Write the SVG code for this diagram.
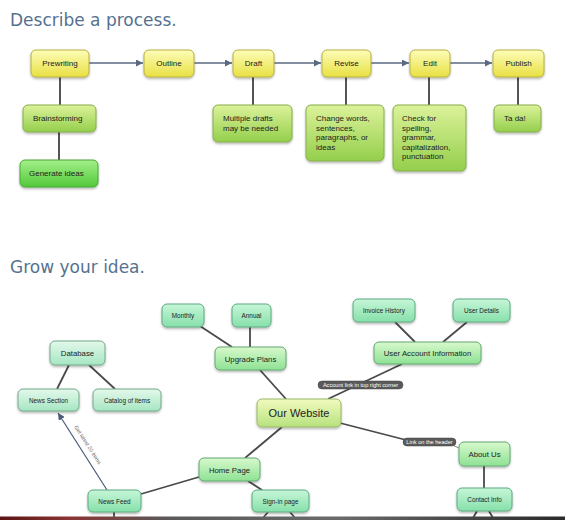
<svg xmlns="http://www.w3.org/2000/svg" width="565" height="520" viewBox="0 0 565 520">
<defs>
<linearGradient id="gY" x1="0" y1="0" x2="0" y2="1"><stop offset="0" stop-color="#fdfdb8"/><stop offset="1" stop-color="#e8e042"/></linearGradient>
<linearGradient id="gG" x1="0" y1="0" x2="0" y2="1"><stop offset="0" stop-color="#dcf29a"/><stop offset="1" stop-color="#94cf4c"/></linearGradient>
<linearGradient id="gD" x1="0" y1="0" x2="0" y2="1"><stop offset="0" stop-color="#a4f08a"/><stop offset="1" stop-color="#52c83a"/></linearGradient>
<linearGradient id="gM" x1="0" y1="0" x2="0" y2="1"><stop offset="0" stop-color="#d8f8cc"/><stop offset="1" stop-color="#8ee294"/></linearGradient>
<linearGradient id="gA" x1="0" y1="0" x2="0" y2="1"><stop offset="0" stop-color="#e4f8ec"/><stop offset="1" stop-color="#a6e6c2"/></linearGradient>
<linearGradient id="gT" x1="0" y1="0" x2="0" y2="1"><stop offset="0" stop-color="#c6f6d8"/><stop offset="1" stop-color="#86e0aa"/></linearGradient>
<linearGradient id="gW" x1="0" y1="0" x2="0" y2="1"><stop offset="0" stop-color="#f2fabe"/><stop offset="1" stop-color="#b6e27e"/></linearGradient>
<linearGradient id="gBar" x1="0" y1="0" x2="1" y2="0"><stop offset="0" stop-color="#5a1414"/><stop offset="0.12" stop-color="#8a3434"/><stop offset="0.3" stop-color="#5a5a5a"/><stop offset="0.6" stop-color="#6a6a6a"/><stop offset="1" stop-color="#2a2a2a"/></linearGradient>
<filter id="sh" x="-20%" y="-20%" width="140%" height="160%"><feDropShadow dx="0" dy="1.5" stdDeviation="1.2" flood-color="#000" flood-opacity="0.3"/></filter>
<marker id="ah" viewBox="0 0 10 10" refX="10" refY="5" markerWidth="7" markerHeight="7" markerUnits="userSpaceOnUse" orient="auto"><path d="M0,0 L10,5 L0,10 z" fill="#5a6a80"/></marker>
<marker id="ah2" viewBox="0 0 10 10" refX="10" refY="5" markerWidth="7" markerHeight="7" markerUnits="userSpaceOnUse" orient="auto"><path d="M0,0 L10,5 L0,10 z" fill="#4a5a78"/></marker>
</defs>
<style>
.title{font-family:"DejaVu Sans",Verdana,sans-serif;font-size:17px;fill:#56718f}
.t{font-family:"Liberation Sans",Arial,sans-serif;font-size:8px;fill:#222}
.c{text-anchor:middle}
.s{font-size:6.4px}
.m{font-size:7.8px}
.b{font-size:11px}
.n rect{filter:url(#sh);rx:5px}
.y rect{fill:url(#gY);stroke:#b8b040;stroke-width:1}
.g rect{fill:url(#gG);stroke:#86ad4a;stroke-width:1}
.d rect{fill:url(#gD);stroke:#4aa838;stroke-width:1}
.mm rect{fill:url(#gM);stroke:#62a872;stroke-width:1}
.aq rect{fill:url(#gA);stroke:#72aa8a;stroke-width:1}
.tq rect{fill:url(#gT);stroke:#5eaa80;stroke-width:1}
.ws rect{fill:url(#gW);stroke:#98b868;stroke-width:1}
.pa{stroke:#5a6a80;stroke-width:1.6;fill:none}
.pl{stroke:#555;stroke-width:2;fill:none}
.ml{stroke:#4a4a4a;stroke-width:1.8;fill:none}
.lab rect{fill:#5a5a5a;stroke:#444;stroke-width:0.5}
.lab text{font-family:"Liberation Sans",Arial,sans-serif;font-size:5.6px;fill:#fff;text-anchor:middle}
</style>
<rect width="565" height="520" fill="#fff"/>
<text class="title" x="10" y="26">Describe a process.</text>
<text class="title" x="10" y="273">Grow your idea.</text>

<g id="connectors">
<line class="pa" x1="89" y1="63" x2="143" y2="63" marker-end="url(#ah)"/>
<line class="pa" x1="194" y1="63" x2="232" y2="63" marker-end="url(#ah)"/>
<line class="pa" x1="274" y1="63" x2="321" y2="63" marker-end="url(#ah)"/>
<line class="pa" x1="371" y1="63" x2="409" y2="63" marker-end="url(#ah)"/>
<line class="pa" x1="450" y1="63" x2="492" y2="63" marker-end="url(#ah)"/>
<line class="pl" x1="60" y1="77" x2="60" y2="105"/>
<line class="pl" x1="59" y1="132" x2="59" y2="160"/>
<line class="pl" x1="253" y1="77" x2="253" y2="105"/>
<line class="pl" x1="346" y1="77" x2="346" y2="105"/>
<line class="pl" x1="429" y1="77" x2="429" y2="105"/>
<line class="pl" x1="518" y1="77" x2="518" y2="105"/>

<line class="ml" x1="200" y1="326" x2="232" y2="347"/>
<line class="ml" x1="250" y1="327" x2="250" y2="347"/>
<line class="ml" x1="69" y1="365" x2="57" y2="389"/>
<line class="ml" x1="89" y1="365" x2="115" y2="389"/>
<line class="ml" x1="260" y1="370" x2="286" y2="399"/>
<line class="ml" x1="402" y1="364" x2="328" y2="399"/>
<line class="ml" x1="395" y1="322" x2="415" y2="342"/>
<line class="ml" x1="467" y1="322" x2="443" y2="342"/>
<line class="ml" x1="340" y1="423" x2="410" y2="441"/>
<line stroke="#888" stroke-width="1" x1="450" y1="444" x2="459" y2="448"/>
<line class="ml" x1="484" y1="466" x2="484" y2="488"/>
<line class="ml" x1="282" y1="427" x2="245" y2="458"/>
<line class="ml" x1="199" y1="477" x2="141" y2="494"/>
<line class="ml" x1="248" y1="481" x2="262" y2="490"/>
<line stroke="#4a5a78" stroke-width="1.2" x1="107" y1="490" x2="58" y2="413" marker-end="url(#ah2)"/>
<text font-family="Liberation Sans, Arial, sans-serif" font-size="5.4" fill="#666" transform="translate(74,427) rotate(57)">Get latest 20 items</text>
<line class="ml" x1="114" y1="512" x2="114" y2="518"/>
<line class="ml" x1="268" y1="512" x2="263" y2="518"/>
<line class="ml" x1="290" y1="512" x2="295" y2="518"/>
<line class="ml" x1="477" y1="511" x2="473" y2="518"/>
<line class="ml" x1="489" y1="511" x2="493" y2="518"/>
<g class="lab"><rect x="318" y="381" width="85" height="8" rx="4"/><text x="360.5" y="387">Account link in top right corner</text></g>
<g class="lab"><rect x="403" y="438" width="53" height="8" rx="4"/><text x="429.5" y="444">Link on the header</text></g>
</g>

<g id="prewriting" class="n y"><rect x="31" y="50" width="58" height="27"/><text class="t c" x="60" y="66">Prewriting</text></g>
<g id="outline" class="n y"><rect x="144" y="50" width="50" height="27"/><text class="t c" x="169" y="66">Outline</text></g>
<g id="draft" class="n y"><rect x="233" y="50" width="41" height="27"/><text class="t c" x="253.5" y="66">Draft</text></g>
<g id="revise" class="n y"><rect x="322" y="50" width="49" height="27"/><text class="t c" x="346.5" y="66">Revise</text></g>
<g id="edit" class="n y"><rect x="410" y="50" width="40" height="27"/><text class="t c" x="430" y="66">Edit</text></g>
<g id="publish" class="n y"><rect x="493" y="50" width="51" height="27"/><text class="t c" x="518.5" y="66">Publish</text></g>
<g id="brainstorming" class="n g"><rect x="23" y="105" width="73" height="27"/><text class="t" x="33" y="121">Brainstorming</text></g>
<g id="generate" class="n d"><rect x="20" y="160" width="78" height="27"/><text class="t" x="29" y="176">Generate ideas</text></g>
<g id="multiple" class="n g"><rect x="213" y="105" width="79" height="37"/><text class="t" x="223" y="121">Multiple drafts</text><text class="t" x="223" y="130.5">may be needed</text></g>
<g id="change" class="n g"><rect x="306" y="105" width="78" height="56"/><text class="t" x="316" y="121">Change words,</text><text class="t" x="316" y="130.5">sentences,</text><text class="t" x="316" y="140">paragraphs, or</text><text class="t" x="316" y="149.5">ideas</text></g>
<g id="check" class="n g"><rect x="393" y="105" width="73" height="66"/><text class="t" x="402" y="121">Check for</text><text class="t" x="402" y="130.5">spelling,</text><text class="t" x="402" y="140">grammar,</text><text class="t" x="402" y="149.5">capitalization,</text><text class="t" x="402" y="159">punctuation</text></g>
<g id="tada" class="n g"><rect x="494" y="105" width="47" height="27"/><text class="t" x="504" y="121">Ta da!</text></g>

<g id="monthly" class="n tq"><rect x="162" y="304" width="42" height="23"/><text class="t c s" x="183" y="317.5">Monthly</text></g>
<g id="annual" class="n tq"><rect x="232" y="304" width="39" height="23"/><text class="t c s" x="251.5" y="317.5">Annual</text></g>
<g id="database" class="n aq"><rect x="50" y="341" width="55" height="24"/><text class="t c m" x="77.5" y="356">Database</text></g>
<g id="upgrade" class="n mm"><rect x="215" y="347" width="71" height="23"/><text class="t c m" x="250.5" y="361.5">Upgrade Plans</text></g>
<g id="uai" class="n mm"><rect x="374" y="342" width="107" height="22"/><text class="t c m" x="427.5" y="356">User Account Information</text></g>
<g id="invoice" class="n tq"><rect x="353" y="299" width="62" height="23"/><text class="t c s" x="384" y="312.5">Invoice History</text></g>
<g id="userdetails" class="n tq"><rect x="453" y="299" width="57" height="23"/><text class="t c s" x="481.5" y="312.5">User Details</text></g>
<g id="newssection" class="n aq"><rect x="18" y="389" width="61" height="22"/><text class="t c s" x="48.5" y="402.5">News Section</text></g>
<g id="catalog" class="n aq"><rect x="93" y="389" width="68" height="22"/><text class="t c s" x="127" y="402.5">Catalog of items</text></g>
<g id="ourwebsite" class="n ws"><rect x="257" y="399" width="84" height="28"/><text class="t c b" x="299" y="417">Our Website</text></g>
<g id="homepage" class="n mm"><rect x="199" y="458" width="61" height="23"/><text class="t c m" x="229.5" y="472.5">Home Page</text></g>
<g id="aboutus" class="n mm"><rect x="459" y="442" width="51" height="24"/><text class="t c m" x="484.5" y="457">About Us</text></g>
<g id="newsfeed" class="n tq"><rect x="88" y="490" width="53" height="22"/><text class="t c s" x="114.5" y="503.5">News Feed</text></g>
<g id="signin" class="n tq"><rect x="252" y="490" width="57" height="22"/><text class="t c s" x="280.5" y="503.5">Sign-in page</text></g>
<g id="contact" class="n tq"><rect x="457" y="488" width="55" height="23"/><text class="t c s" x="484.5" y="502">Contact Info</text></g>

<rect x="0" y="516.5" width="565" height="3.5" fill="url(#gBar)"/>
</svg>
